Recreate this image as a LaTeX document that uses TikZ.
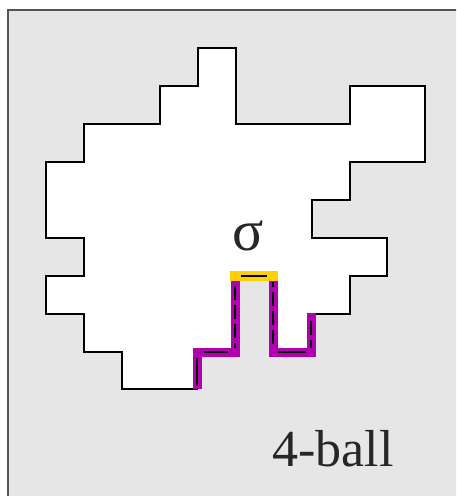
\documentclass[tikz,border=0pt]{standalone}
\usepackage{fontspec}
\setmainfont{Liberation Serif}
\definecolor{bg}{HTML}{E6E6E6}
\definecolor{framec}{HTML}{555555}
\definecolor{purp}{HTML}{B000B0}
\definecolor{yel}{HTML}{FFD000}
\tikzset{
  region/.style={fill=white, draw=black, line width=2.6pt, line join=miter},
  purpath/.style={draw=purp, line width=9pt, line join=miter},
  yelpath/.style={draw=yel, line width=10pt},
  dashline/.style={draw=black, line width=1.2pt, dash pattern=on 14pt off 5pt, dash phase=-4pt},
  lbl/.style={inner sep=0pt, text=black!85}
}
\begin{document}
\begin{tikzpicture}[x=1pt,y=-1pt]
\useasboundingbox (0,0) rectangle (456,496);
\fill[white] (0,0) rectangle (456,496);
\begin{scope}
\clip (0,0) rectangle (456,496);
\draw[fill=bg, draw=framec, line width=1.5pt] (8,10) rectangle (475,520);
\end{scope}
% white region
\path[region] (198,48) -- (236,48) -- (236,124) -- (350,124) -- (350,86) -- (425,86)
 -- (425,162) -- (350,162) -- (350,200) -- (312,200) -- (312,238) -- (387,238)
 -- (387,276) -- (350,276) -- (350,314) -- (311,314) -- (311,352) -- (273,352)
 -- (273,276) -- (235,276) -- (235,352) -- (197,352) -- (197,389) -- (122,389)
 -- (122,352) -- (84,352) -- (84,314) -- (46,314) -- (46,276) -- (84,276)
 -- (84,238) -- (46,238) -- (46,162) -- (84,162) -- (84,124) -- (160,124)
 -- (160,86) -- (198,86) -- cycle;
% purple path
\coordinate (p1) at (311,313);
\coordinate (p2) at (311,352);
\coordinate (p3) at (273,352);
\coordinate (p4) at (273,280);
\coordinate (p5) at (235,280);
\coordinate (p6) at (235,352);
\coordinate (p7) at (197,352);
\coordinate (p8) at (197,389);
\draw[purpath] (p1) -- (p2) -- (p3) -- (p4);
\draw[purpath] (p5) -- (p6) -- (p7) -- (p8);
\coordinate (y1) at (230,276);
\coordinate (y2) at (278,276);
\draw[yelpath] (y1) -- (y2);
% dashed lines
\draw[black, line width=1.2pt] (241,276) -- (267,276);
\draw[dashline] (311,317) -- (311,348);
\draw[black, line width=1.2pt] (278,352) -- (306,352);
\draw[dashline] (273,348) -- (273,282);
\draw[dashline] (235,282) -- (235,348);
\draw[black, line width=1.2pt] (204,352) -- (228,352);
\draw[black, line width=1.2pt] (197,358) -- (197,386);
% labels
\node[lbl, font=\fontsize{58}{60}\selectfont] (sigma) at (248,236) {σ};
\node[lbl, font=\fontsize{52}{56}\selectfont, anchor=base] (ball) at (333,466) {4-ball};
\end{tikzpicture}
\end{document}
